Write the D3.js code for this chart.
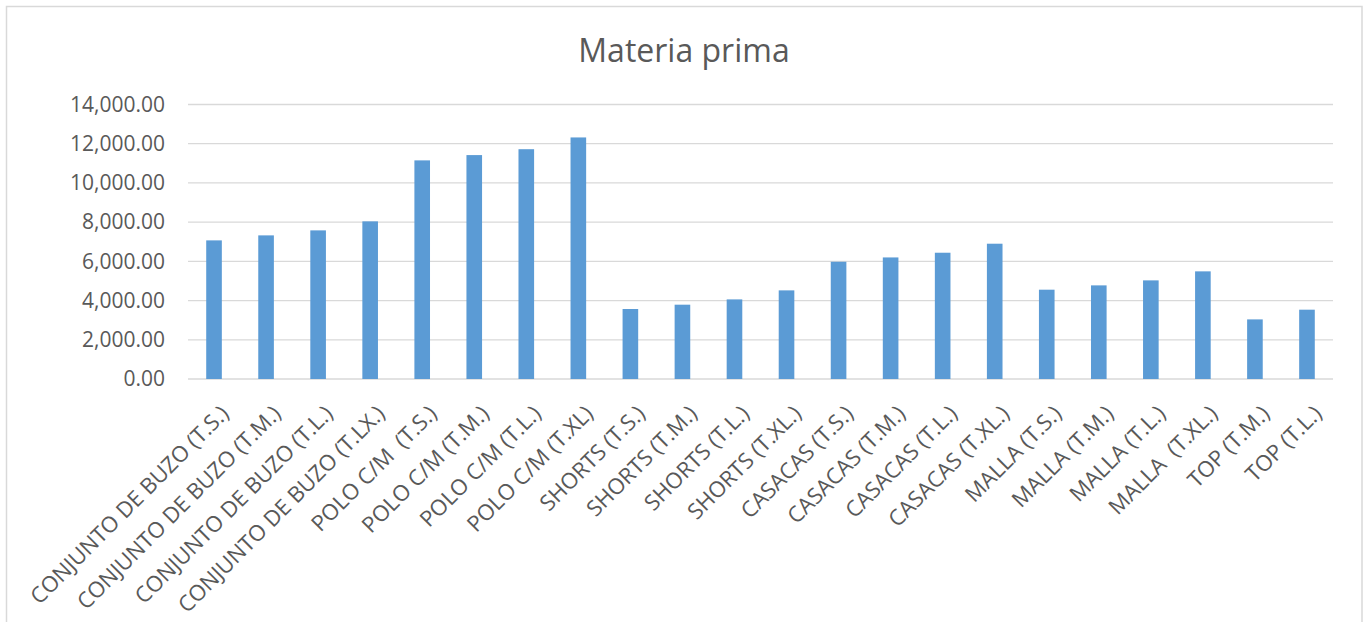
<!DOCTYPE html>
<html>
<head>
<meta charset="utf-8">
<script src="https://cdn.jsdelivr.net/npm/d3@7"></script>
<style>
  html, body { margin: 0; padding: 0; background: #ffffff; }
  svg { display: block; }
  text { font-family: "Open Sans", "Noto Sans", sans-serif; fill: #595959; }
</style>
</head>
<body>
<svg id="chart" width="1370" height="622"></svg>
<script>
// Raw material cost per product and size
const categories = [
  "CONJUNTO DE BUZO (T.S.)", "CONJUNTO DE BUZO (T.M.)", "CONJUNTO DE BUZO (T.L.)", "CONJUNTO DE BUZO (T.LX.)",
  "POLO C/M  (T.S.)", "POLO C/M (T.M.)", "POLO C/M (T.L.)", "POLO C/M (T.XL)",
  "SHORTS (T.S.)", "SHORTS (T.M.)", "SHORTS (T.L.)", "SHORTS (T.XL.)",
  "CASACAS (T.S.)", "CASACAS (T.M.)", "CASACAS (T.L.)", "CASACAS (T.XL.)",
  "MALLA (T.S.)", "MALLA (T.M.)", "MALLA (T.L.)", "MALLA  (T.XL.)",
  "TOP (T.M.)", "TOP (T.L.)"
];
const values = [
  7070, 7325, 7580, 8040,
  11150, 11420, 11720, 12320,
  3570, 3790, 4060, 4520,
  5980, 6200, 6440, 6900,
  4555, 4775, 5030, 5490,
  3040, 3535
];
const yTicks = [0, 2000, 4000, 6000, 8000, 10000, 12000, 14000];
const title = "Materia prima";

const svg = d3.select("#chart");
const W = 1370, H = 622;
const plot = { left: 188, right: 1333, top: 104.5, bottom: 379 };

// chart frame
svg.append("rect")
  .attr("x", 6.5).attr("y", 6.5)
  .attr("width", 1362 - 6.5).attr("height", H + 10)
  .attr("fill", "#ffffff")
  .attr("stroke", "#d9d9d9").attr("stroke-width", 1.5);

const x = d3.scaleBand()
  .domain(categories)
  .range([plot.left, plot.right])
  .paddingInner(0.70)
  .paddingOuter(0.35);

const y = d3.scaleLinear()
  .domain([0, 14000])
  .range([plot.bottom, plot.top]);

// horizontal gridlines
svg.append("g")
  .selectAll("line")
  .data(yTicks)
  .join("line")
  .attr("x1", plot.left).attr("x2", plot.right)
  .attr("y1", d => y(d)).attr("y2", d => y(d))
  .attr("stroke", "#d9d9d9").attr("stroke-width", 1.3);

// y axis labels
const fmt = d3.format(",.2f");
svg.append("g")
  .selectAll("text")
  .data(yTicks)
  .join("text")
  .attr("x", 165)
  .attr("y", d => y(d))
  .attr("dy", "0.35em")
  .attr("text-anchor", "end")
  .style("font-size", "21px")
  .text(d => fmt(d));

// bars
svg.append("g")
  .selectAll("rect")
  .data(values)
  .join("rect")
  .attr("x", (d, i) => x(categories[i]))
  .attr("width", x.bandwidth())
  .attr("y", d => y(d))
  .attr("height", d => y(0) - y(d))
  .attr("fill", "#5b9bd5");

// category labels, rotated
svg.append("g")
  .selectAll("text")
  .data(categories)
  .join("text")
  .attr("text-anchor", "end")
  .attr("xml:space", "preserve")
  .style("white-space", "pre")
  .style("font-size", "22px")
  .attr("transform", d => `translate(${x(d) + x.bandwidth() / 2 + 16},${415}) rotate(-45)`)
  .text(d => d);

// title
svg.append("text")
  .attr("x", 684)
  .attr("y", 62)
  .attr("text-anchor", "middle")
  .style("font-size", "32px")
  .text(title);
</script>
</body>
</html>
